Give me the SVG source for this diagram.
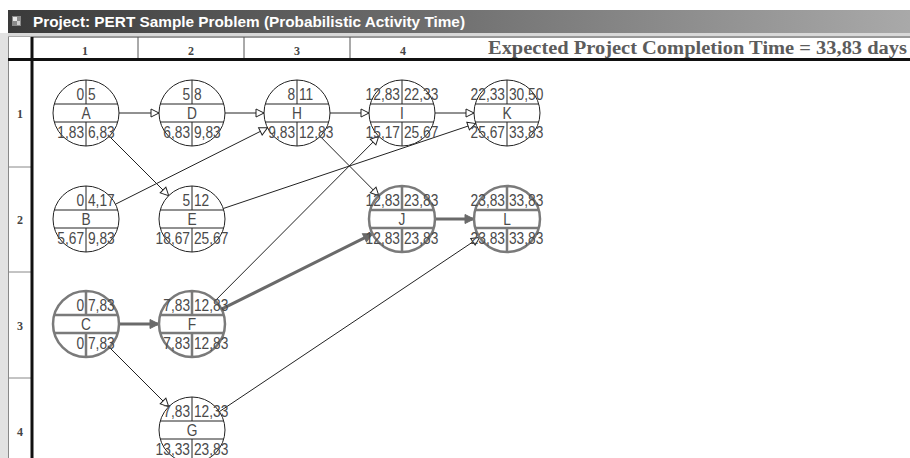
<svg xmlns="http://www.w3.org/2000/svg" xmlns:xlink="http://www.w3.org/1999/xlink" width="910" height="458" viewBox="0 0 910 458">
  <defs>
    <linearGradient id="titleGrad" x1="0" y1="0" x2="1" y2="0">
      <stop offset="0" stop-color="#3a3a3a"/>
      <stop offset="1" stop-color="#a9a9a9"/>
    </linearGradient>
    <!-- activity node: circle with a name band, ES|EF on top, LS|LF below -->
    <path id="node" d="M-33,0 A33,33 0 1 1 33,0 A33,33 0 1 1 -33,0 Z M-31.7,-9 H31.7 M-31.7,9 H31.7 M0,-33 V-9 M0,9 V33"/>
    <marker id="arrow" markerUnits="userSpaceOnUse" markerWidth="12" markerHeight="12" refX="8" refY="4" orient="auto" overflow="visible">
      <path d="M0,0 L8,4 L0,8 Z" fill="#fff" stroke="#222" stroke-width="1"/>
    </marker>
    <marker id="arrowCrit" markerUnits="userSpaceOnUse" markerWidth="12" markerHeight="12" refX="9" refY="4.5" orient="auto" overflow="visible">
      <path d="M0,0 L9,4.5 L0,9 Z" fill="#6a6a6a" stroke="#6a6a6a" stroke-width="1"/>
    </marker>
    <style>
      .n use { fill: #fff; stroke: #222; stroke-width: 1; }
      .n.crit use { stroke: #7a7a7a; stroke-width: 2.5; }
      .n text { font-family: "Liberation Sans", Arial, sans-serif; font-size: 16px; fill: #4a4a4a; }
      .l { text-anchor: end; }
      .r { text-anchor: start; }
      .m { text-anchor: middle; }
      .edge { fill: none; stroke: #222; stroke-width: 1; marker-end: url(#arrow); }
      .edge.crit { stroke: #6a6a6a; stroke-width: 3; marker-end: url(#arrowCrit); }
      .hdr { font-family: "Liberation Serif", "Times New Roman", serif; font-size: 12px; font-weight: bold; fill: #444; text-anchor: middle; }
    </style>
  </defs>

  <!-- window frame -->
  <rect x="0" y="0" width="910" height="458" fill="#fff"/>
  <rect x="0" y="33" width="8" height="425" fill="#e2e2e2"/>
  <rect x="8" y="10" width="902" height="23" fill="url(#titleGrad)"/>
  <rect x="8" y="33" width="902" height="3" fill="#d8d8d8"/>
  <g id="title-icon">
    <rect x="12" y="16" width="9" height="10" fill="#8a8a8a"/>
    <rect x="13" y="17" width="4" height="4" fill="#e8e8e8"/>
    <rect x="17" y="21" width="3" height="4" fill="#cfcfcf"/>
  </g>
  <text x="33" y="27" font-family="Liberation Sans, Arial, sans-serif" font-size="14" font-weight="bold" fill="#fff" textLength="432" lengthAdjust="spacingAndGlyphs">Project: PERT Sample Problem (Probabilistic Activity Time)</text>

  <!-- grid rulers -->
  <g id="grid">
    <line x1="31" y1="37" x2="910" y2="37" stroke="#333" stroke-width="1"/>
    <line x1="8.5" y1="36" x2="8.5" y2="458" stroke="#888" stroke-width="1"/>
    <line x1="8" y1="36.5" x2="31" y2="36.5" stroke="#aaa" stroke-width="1"/>
    <line x1="138" y1="37" x2="138" y2="58" stroke="#555" stroke-width="1"/>
    <line x1="244" y1="37" x2="244" y2="58" stroke="#555" stroke-width="1"/>
    <line x1="350" y1="37" x2="350" y2="58" stroke="#555" stroke-width="1"/>
    <line x1="9" y1="167" x2="31" y2="167" stroke="#888" stroke-width="1"/>
    <line x1="9" y1="272" x2="31" y2="272" stroke="#888" stroke-width="1"/>
    <line x1="9" y1="378" x2="31" y2="378" stroke="#888" stroke-width="1"/>
    <line x1="8" y1="59.5" x2="910" y2="59.5" stroke="#111" stroke-width="3"/>
    <line x1="32" y1="37" x2="32" y2="458" stroke="#111" stroke-width="3"/>
    <text class="hdr" x="85" y="55">1</text>
    <text class="hdr" x="191" y="55">2</text>
    <text class="hdr" x="297" y="55">3</text>
    <text class="hdr" x="403" y="55">4</text>
    <text class="hdr" x="20" y="118">1</text>
    <text class="hdr" x="20" y="224">2</text>
    <text class="hdr" x="20" y="330">3</text>
    <text class="hdr" x="20" y="436">4</text>
    <text x="488" y="54" font-family="Liberation Serif, Times New Roman, serif" font-size="18" font-weight="bold" fill="#5c5c5c" textLength="419" lengthAdjust="spacingAndGlyphs">Expected Project Completion Time = 33,83 days</text>
  </g>

  <!-- precedence connectors -->
  <g id="connectors">
    <path class="edge" d="M119,113 L159,113"/>
    <path class="edge" d="M225,113 L264,113"/>
    <path class="edge" d="M330,113 L369,113"/>
    <path class="edge" d="M435,113 L474,113"/>
    <path class="edge" d="M109.3,136.3 L168.7,195.7"/>
    <path class="edge" d="M115.5,204.2 L267.5,127.8"/>
    <path class="edge" d="M320.2,136.4 L378.8,195.6"/>
    <path class="edge" d="M223.3,208.5 L475.7,123.5"/>
    <path class="edge" d="M215.3,300.6 L378.7,136.4"/>
    <path class="edge" d="M109.3,347.3 L168.7,406.7"/>
    <path class="edge" d="M219.4,411.6 L479.6,237.4"/>
    <path class="edge crit" d="M119,324 L159,324"/>
    <path class="edge crit" d="M221.5,309.2 L372.5,233.8"/>
    <path class="edge crit" d="M435,219 L474,219"/>
  </g>

  <!-- activities -->
  <g id="A" class="n" transform="translate(86,113)"><use xlink:href="#node"/>
    <g transform="scale(0.86,1)"><text class="l" x="-2.3" y="-13">0</text><text class="r" x="2.3" y="-13">5</text><text class="m" x="0" y="5.5">A</text><text class="l" x="-2.3" y="25.5">1,83</text><text class="r" x="2.3" y="25.5">6,83</text></g></g>
  <g id="D" class="n" transform="translate(192,113)"><use xlink:href="#node"/>
    <g transform="scale(0.86,1)"><text class="l" x="-2.3" y="-13">5</text><text class="r" x="2.3" y="-13">8</text><text class="m" x="0" y="5.5">D</text><text class="l" x="-2.3" y="25.5">6,83</text><text class="r" x="2.3" y="25.5">9,83</text></g></g>
  <g id="H" class="n" transform="translate(297,113)"><use xlink:href="#node"/>
    <g transform="scale(0.86,1)"><text class="l" x="-2.3" y="-13">8</text><text class="r" x="2.3" y="-13">11</text><text class="m" x="0" y="5.5">H</text><text class="l" x="-2.3" y="25.5">9,83</text><text class="r" x="2.3" y="25.5">12,83</text></g></g>
  <g id="I" class="n" transform="translate(402,113)"><use xlink:href="#node"/>
    <g transform="scale(0.86,1)"><text class="l" x="-2.3" y="-13">12,83</text><text class="r" x="2.3" y="-13">22,33</text><text class="m" x="0" y="5.5">I</text><text class="l" x="-2.3" y="25.5">15,17</text><text class="r" x="2.3" y="25.5">25,67</text></g></g>
  <g id="K" class="n" transform="translate(507,113)"><use xlink:href="#node"/>
    <g transform="scale(0.86,1)"><text class="l" x="-2.3" y="-13">22,33</text><text class="r" x="2.3" y="-13">30,50</text><text class="m" x="0" y="5.5">K</text><text class="l" x="-2.3" y="25.5">25,67</text><text class="r" x="2.3" y="25.5">33,83</text></g></g>
  <g id="B" class="n" transform="translate(86,219)"><use xlink:href="#node"/>
    <g transform="scale(0.86,1)"><text class="l" x="-2.3" y="-13">0</text><text class="r" x="2.3" y="-13">4,17</text><text class="m" x="0" y="5.5">B</text><text class="l" x="-2.3" y="25.5">5,67</text><text class="r" x="2.3" y="25.5">9,83</text></g></g>
  <g id="E" class="n" transform="translate(192,219)"><use xlink:href="#node"/>
    <g transform="scale(0.86,1)"><text class="l" x="-2.3" y="-13">5</text><text class="r" x="2.3" y="-13">12</text><text class="m" x="0" y="5.5">E</text><text class="l" x="-2.3" y="25.5">18,67</text><text class="r" x="2.3" y="25.5">25,67</text></g></g>
  <g id="J" class="n crit" transform="translate(402,219)"><use xlink:href="#node"/>
    <g transform="scale(0.86,1)"><text class="l" x="-2.3" y="-13">12,83</text><text class="r" x="2.3" y="-13">23,83</text><text class="m" x="0" y="5.5">J</text><text class="l" x="-2.3" y="25.5">12,83</text><text class="r" x="2.3" y="25.5">23,83</text></g></g>
  <g id="L" class="n crit" transform="translate(507,219)"><use xlink:href="#node"/>
    <g transform="scale(0.86,1)"><text class="l" x="-2.3" y="-13">23,83</text><text class="r" x="2.3" y="-13">33,83</text><text class="m" x="0" y="5.5">L</text><text class="l" x="-2.3" y="25.5">23,83</text><text class="r" x="2.3" y="25.5">33,83</text></g></g>
  <g id="C" class="n crit" transform="translate(86,324)"><use xlink:href="#node"/>
    <g transform="scale(0.86,1)"><text class="l" x="-2.3" y="-13">0</text><text class="r" x="2.3" y="-13">7,83</text><text class="m" x="0" y="5.5">C</text><text class="l" x="-2.3" y="25.5">0</text><text class="r" x="2.3" y="25.5">7,83</text></g></g>
  <g id="F" class="n crit" transform="translate(192,324)"><use xlink:href="#node"/>
    <g transform="scale(0.86,1)"><text class="l" x="-2.3" y="-13">7,83</text><text class="r" x="2.3" y="-13">12,83</text><text class="m" x="0" y="5.5">F</text><text class="l" x="-2.3" y="25.5">7,83</text><text class="r" x="2.3" y="25.5">12,83</text></g></g>
  <g id="G" class="n" transform="translate(192,430)"><use xlink:href="#node"/>
    <g transform="scale(0.86,1)"><text class="l" x="-2.3" y="-13">7,83</text><text class="r" x="2.3" y="-13">12,33</text><text class="m" x="0" y="5.5">G</text><text class="l" x="-2.3" y="25.5">13,33</text><text class="r" x="2.3" y="25.5">23,83</text></g></g>
</svg>
